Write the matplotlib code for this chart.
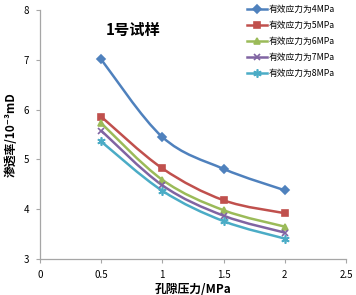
import numpy as np
import matplotlib.pyplot as plt
from matplotlib.path import Path
from matplotlib.patches import PathPatch

plt.rcParams['font.family'] = ['Noto Sans CJK SC', 'DejaVu Sans']

pressure = [0.5, 1.0, 1.5, 2.0]
perm_4mpa = [7.01, 5.45, 4.81, 4.38]
perm_5mpa = [5.86, 4.82, 4.18, 3.92]
perm_6mpa = [5.73, 4.59, 3.98, 3.65]
perm_7mpa = [5.58, 4.48, 3.87, 3.53]
perm_8mpa = [5.36, 4.37, 3.76, 3.41]
labels = ['有效应力为4MPa', '有效应力为5MPa', '有效应力为6MPa',
          '有效应力为7MPa', '有效应力为8MPa']

colors = ['#4F81BD', '#C0504D', '#9BBB59', '#8064A2', '#4BACC6']
markers = ['D', 's', '^', 'x', (6, 2, 0)]
msizes = [4, 5, 5, 5, 6]


def smooth_path(x, y, tension=1 / 6):
    # Excel-like smoothed line: Catmull-Rom through the points as cubic Beziers
    x = np.asarray(x, float)
    y = np.asarray(y, float)
    verts = [(x[0], y[0])]
    codes = [Path.MOVETO]
    n = len(x)
    for i in range(n - 1):
        p0 = (x[max(i - 1, 0)], y[max(i - 1, 0)])
        p1 = (x[i], y[i])
        p2 = (x[i + 1], y[i + 1])
        p3 = (x[min(i + 2, n - 1)], y[min(i + 2, n - 1)])
        c1 = (p1[0] + (p2[0] - p0[0]) * tension, p1[1] + (p2[1] - p0[1]) * tension)
        c2 = (p2[0] - (p3[0] - p1[0]) * tension, p2[1] - (p3[1] - p1[1]) * tension)
        verts += [c1, c2, p2]
        codes += [Path.CURVE4] * 3
    return Path(verts, codes)


fig = plt.figure(figsize=(3.56, 2.95), dpi=100)
ax = fig.add_axes([0.112, 0.122, 0.86, 0.844])

series = [perm_4mpa, perm_5mpa, perm_6mpa, perm_7mpa, perm_8mpa]
for vals, c, m, ms, lab in zip(series, colors, markers, msizes, labels):
    ax.add_patch(PathPatch(smooth_path(pressure, vals), facecolor='none',
                           edgecolor=c, lw=1.8, zorder=2))
    ax.plot(pressure, vals, linestyle='none', marker=m, color=c, markersize=ms,
            markeredgewidth=1.2, zorder=3)
    ax.plot([], [], '-', color=c, lw=1.8, marker=m, markersize=ms,
            markeredgewidth=1.2, label=lab)

ax.set_xlim(0, 2.5)
ax.set_ylim(3, 8)
ax.set_xticks([0, 0.5, 1, 1.5, 2, 2.5])
ax.set_xticklabels(['0', '0.5', '1', '1.5', '2', '2.5'])
ax.set_yticks([3, 4, 5, 6, 7, 8])

for s in ['top', 'right']:
    ax.spines[s].set_visible(False)
for s in ['left', 'bottom']:
    ax.spines[s].set_color('#A6A6A6')
    ax.spines[s].set_linewidth(0.9)
ax.tick_params(axis='both', labelsize=7, colors='#A6A6A6', labelcolor='black',
               length=3, width=0.8, direction='out', pad=5)

ax.set_xlabel('孔隙压力/MPa', fontsize=8.5, fontweight='bold', labelpad=2)
ax.set_ylabel('渗透率/10⁻³mD', fontsize=8.5, fontweight='bold', labelpad=4)

ax.text(0.76, 7.6, '1号试样', fontsize=11, fontweight='bold', ha='center', va='center')

fig.legend(loc='upper right', bbox_to_anchor=(0.955, 1.0), fontsize=6.3, frameon=False,
           handlelength=2.3, handletextpad=0.2, labelspacing=0.8, borderaxespad=0.2)

fig.savefig('out.png', dpi=100)
